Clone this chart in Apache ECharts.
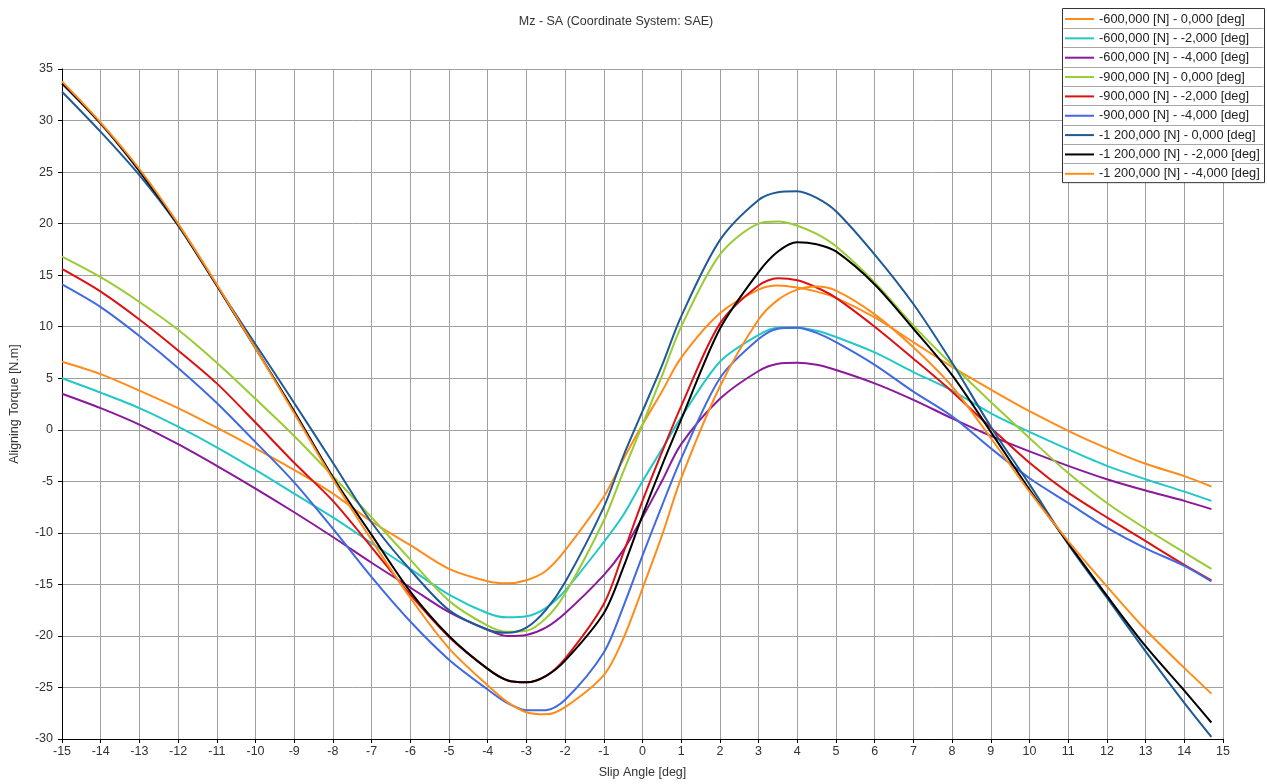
<!DOCTYPE html>
<html>
<head>
<meta charset="utf-8">
<script src="https://cdn.jsdelivr.net/npm/echarts@6/dist/echarts.min.js"></script>
<style>
  html, body { margin: 0; padding: 0; background: #ffffff; }
  #chart { width: 1267px; height: 784px; }
</style>
</head>
<body>
<div id="chart"></div>
<script>
// Slip angle sample points [deg]
const slipAngle = [-15,-14,-13,-12,-11,-10,-9,-8,-7,-6,-5,-4,-3.5,-3,-2.5,-2,-1,-0.5,0,0.5,1,2,3,3.5,4,4.5,5,6,7,8,9,10,11,12,13,14,14.7];

// Aligning torque Mz [N.m] per vertical load / camber combination
const mz600_c0  = [6.6,5.4,3.8,2.1,0.2,-1.8,-3.9,-6.2,-8.9,-11.2,-13.5,-14.7,-14.9,-14.6,-13.7,-11.7,-6.5,-2.9,0.5,3.7,7.0,11.3,13.6,14.0,13.8,13.4,12.8,10.9,8.5,6.1,3.9,1.8,-0.1,-1.8,-3.3,-4.5,-5.5];
const mz600_c2  = [5.0,3.6,2.1,0.3,-1.7,-3.9,-6.2,-8.5,-11.0,-13.5,-16.0,-17.8,-18.2,-18.1,-17.3,-15.6,-10.9,-8.3,-5.0,-1.9,1.2,6.6,9.2,9.9,9.9,9.6,9.0,7.5,5.6,3.8,1.6,-0.2,-1.9,-3.5,-4.8,-6.0,-6.9];
const mz600_c4  = [3.5,2.1,0.5,-1.4,-3.5,-5.7,-8.0,-10.4,-12.9,-15.3,-17.7,-19.4,-20.0,-19.9,-19.2,-17.8,-14.1,-11.7,-8.5,-5.0,-1.4,3.0,5.7,6.4,6.5,6.3,5.8,4.5,2.9,1.1,-0.6,-2.1,-3.5,-4.8,-5.9,-6.9,-7.7];
const mz900_c0  = [16.8,14.8,12.4,9.7,6.5,3.0,-0.6,-4.5,-8.5,-12.6,-16.6,-19.0,-19.6,-19.5,-18.3,-15.9,-8.8,-4.1,0.5,5.2,10.0,17.0,20.0,20.2,19.8,19.0,17.8,14.3,10.1,6.3,2.7,-0.8,-4.2,-7.1,-9.6,-11.9,-13.5];
const mz900_c2  = [15.6,13.4,10.7,7.7,4.5,0.7,-3.2,-6.9,-11.4,-16.0,-20.1,-23.2,-24.3,-24.5,-23.9,-22.2,-16.9,-12.0,-6.9,-2.2,2.3,10.3,14.0,14.7,14.5,13.8,12.8,10.0,6.9,3.7,0.2,-3.2,-6.1,-8.5,-10.8,-13.1,-14.6];
const mz900_c4  = [14.1,11.9,9.1,6.0,2.6,-1.2,-5.1,-9.6,-14.3,-18.6,-22.3,-25.2,-26.5,-27.2,-27.2,-26.2,-21.6,-17.2,-12.2,-7.4,-2.8,5.0,8.8,9.8,9.9,9.4,8.5,6.3,3.7,1.3,-1.8,-4.7,-7.1,-9.5,-11.5,-13.2,-14.7];
const mz1200_c0 = [32.8,28.9,24.7,19.8,14.0,8.3,2.6,-3.2,-9.0,-13.6,-17.5,-19.4,-19.7,-19.2,-17.5,-14.8,-7.5,-2.6,1.8,6.2,11.0,18.4,22.3,23.05,23.15,22.5,21.2,17.0,12.2,6.5,0.3,-5.3,-11.1,-16.3,-21.5,-26.5,-29.8];
const mz1200_c2 = [33.6,29.7,25.1,19.9,14.0,7.9,1.8,-4.6,-10.2,-15.7,-20.0,-23.2,-24.3,-24.5,-23.9,-22.4,-17.8,-13.4,-8.3,-3.5,1.0,9.8,15.3,17.3,18.2,18.0,17.3,14.1,9.8,5.3,-0.2,-5.8,-11.0,-16.1,-21.0,-25.3,-28.4];
const mz1200_c4 = [33.8,29.8,25.3,20.0,14.1,7.9,1.6,-4.8,-10.7,-16.3,-21.2,-24.8,-26.4,-27.4,-27.6,-26.9,-23.8,-20.3,-15.4,-10.3,-4.7,4.2,10.7,12.6,13.6,13.9,13.5,11.2,8.0,4.2,-0.8,-6.0,-10.8,-15.2,-19.4,-23.1,-25.6];

const seriesNames = [
  '-600,000 [N] - 0,000 [deg]',
  '-600,000 [N] - -2,000 [deg]',
  '-600,000 [N] - -4,000 [deg]',
  '-900,000 [N] - 0,000 [deg]',
  '-900,000 [N] - -2,000 [deg]',
  '-900,000 [N] - -4,000 [deg]',
  '-1 200,000 [N] - 0,000 [deg]',
  '-1 200,000 [N] - -2,000 [deg]',
  '-1 200,000 [N] - -4,000 [deg]'
];
const seriesValues = [mz600_c0, mz600_c2, mz600_c4, mz900_c0, mz900_c2, mz900_c4, mz1200_c0, mz1200_c2, mz1200_c4];
const seriesColors = ['#ff8c1a', '#22c8c8', '#8b1a9b', '#99cc33', '#dd1111', '#4169e1', '#1f5a96', '#000000', '#ff8c1a'];

const FONT = "'Liberation Sans', Arial, sans-serif";
const TEXT = '#333333';

const chart = echarts.init(document.getElementById('chart'), null, { renderer: 'canvas' });

const series = seriesNames.map((name, i) => ({
  name: name,
  type: 'line',
  data: slipAngle.map((x, k) => [x, seriesValues[i][k]]),
  showSymbol: false,
  symbol: 'none',
  smooth: 0.3,
  lineStyle: { color: seriesColors[i], width: 2 },
  itemStyle: { color: seriesColors[i] },
  emphasis: { disabled: true },
  z: 2
}));

// legend frame with row separators
const legendLeft = 1062.5, legendTop = 8.5, legendW = 202, rowH = 19.35, rows = seriesNames.length;
const legendGraphics = [{
  type: 'rect',
  z: 3,
  shape: { x: legendLeft, y: legendTop, width: legendW, height: rowH * rows },
  style: { fill: '#ffffff', stroke: '#333333', lineWidth: 1 }
}];
for (let r = 1; r < rows; r++) {
  const y = Math.round(legendTop + rowH * r) + 0.5;
  legendGraphics.push({
    type: 'line', z: 3,
    shape: { x1: legendLeft + 1, y1: y, x2: legendLeft + legendW - 1, y2: y },
    style: { stroke: '#a8a8a8', lineWidth: 1 }
  });
}

chart.setOption({
  animation: false,
  backgroundColor: '#ffffff',
  textStyle: { fontFamily: FONT },
  title: {
    text: 'Mz - SA (Coordinate System: SAE)',
    left: 611, top: 10, textAlign: 'center',
    textStyle: { fontFamily: FONT, fontSize: 12.5, fontWeight: 'normal', color: TEXT }
  },
  grid: { left: 58, right: 44, top: 69, bottom: 43, containLabel: false },
  xAxis: {
    type: 'value', min: -15, max: 15, interval: 1,
    name: 'Slip Angle [deg]', nameLocation: 'middle', nameGap: 27,
    nameTextStyle: { fontFamily: FONT, fontSize: 12.5, color: TEXT },
    axisLine: { onZero: false, lineStyle: { color: '#000000', width: 1 } },
    axisTick: { show: true, inside: false, length: 4, lineStyle: { color: '#000000' } },
    axisLabel: { fontFamily: FONT, fontSize: 12.5, color: TEXT, margin: 6 },
    splitLine: { show: true, lineStyle: { color: '#a0a0a0', width: 1 } }
  },
  yAxis: {
    type: 'value', min: -30, max: 35, interval: 5,
    name: 'Aligning Torque [N.m]', nameLocation: 'middle', nameGap: 41,
    nameTextStyle: { fontFamily: FONT, fontSize: 12.5, color: TEXT },
    axisLine: { show: true, onZero: false, lineStyle: { color: '#000000', width: 1 } },
    axisTick: { show: true, inside: false, length: 4, lineStyle: { color: '#000000' } },
    axisLabel: { fontFamily: FONT, fontSize: 12.5, color: TEXT, margin: 9 },
    splitLine: { show: true, lineStyle: { color: '#a0a0a0', width: 1 } }
  },
  legend: {
    orient: 'vertical', left: 1062, top: 9,
    padding: [3, 4, 3, 3],
    itemWidth: 29, itemHeight: 2, itemGap: 5.35,
    icon: 'rect',
    z: 4,
    selectedMode: false,
    textStyle: { fontFamily: FONT, fontSize: 12.8, color: '#222222', lineHeight: 14 },
    data: seriesNames
  },
  graphic: legendGraphics,
  series: series
});
</script>
</body>
</html>
